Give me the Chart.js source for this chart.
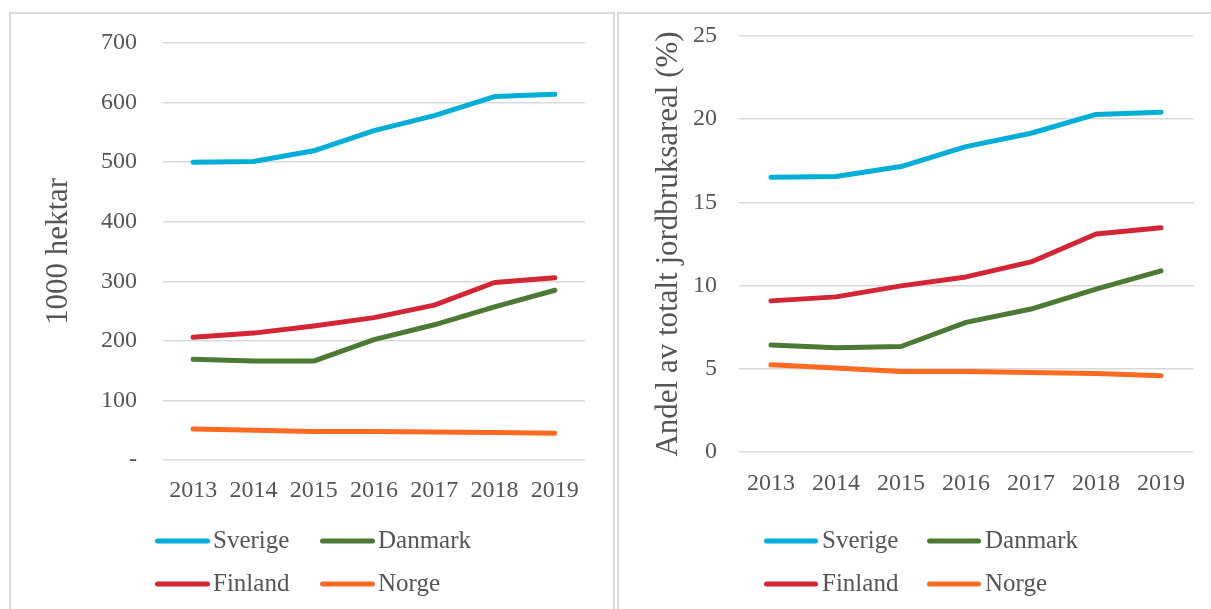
<!DOCTYPE html>
<html>
<head>
<meta charset="utf-8">
<script src="https://cdn.jsdelivr.net/npm/chart.js@4/dist/chart.umd.min.js"></script>
<style>
  html, body { margin: 0; padding: 0; background: #fff; overflow: hidden; }
  body { width: 1211px; height: 609px; position: relative; }
  .panel { position: absolute; top: 12px; height: 640px; border: 2px solid #d9d9d9; box-sizing: border-box; }
  #panelLeft { left: 9px; width: 606px; }
  #panelRight { left: 617px; width: 700px; }
  canvas { position: absolute; top: 0; }
  #chartLeft { left: 0; }
  #chartRight { left: 617px; }
</style>
</head>
<body>
<div class="panel" id="panelLeft"></div>
<div class="panel" id="panelRight"></div>
<canvas id="chartLeft" width="613" height="609"></canvas>
<canvas id="chartRight" width="594" height="609"></canvas>
<script>
// --- DATA ---
const years = ["2013", "2014", "2015", "2016", "2017", "2018", "2019"];
const countries = ["Sverige", "Danmark", "Finland", "Norge"];

// areal, 1000 hektar
const sverigeHa = [500, 501, 519, 553, 578, 610, 614];
const danmarkHa = [169, 166, 166, 202, 227, 257, 285];
const finlandHa = [206, 213, 225, 239, 260, 298, 306];
const norgeHa = [52, 50, 48, 48, 47, 46, 45];

// andel av totalt jordbruksareal, %
const sverigePct = [16.5, 16.55, 17.15, 18.35, 19.15, 20.28, 20.42];
const danmarkPct = [6.43, 6.26, 6.34, 7.79, 8.59, 9.78, 10.88];
const finlandPct = [9.08, 9.32, 9.98, 10.52, 11.42, 13.1, 13.47];
const norgePct = [5.24, 5.05, 4.84, 4.84, 4.78, 4.72, 4.58];

const leftTicks = { min: 0, max: 700, step: 100 };
const rightTicks = { min: 0, max: 25, step: 5 };

// --- STYLE ---
const colors = ["#00aed8", "#4a7a34", "#d42535", "#fe6a22"];
const textColor = "#555555";
const gridColor = "#d9d9d9";
const fontFamily = "'Liberation Serif', 'Times New Roman', serif";

// legend drawn as a 2x2 grid, like the spreadsheet original
const gridLegend = {
  id: "gridLegend",
  afterDraw(chart, args, opts) {
    const ctx = chart.ctx;
    ctx.save();
    ctx.font = `${opts.fontSize}px ${fontFamily}`;
    ctx.textBaseline = "middle";
    ctx.lineWidth = 5;
    ctx.lineCap = "round";
    chart.data.datasets.forEach((ds, i) => {
      const col = i % 2, row = Math.floor(i / 2);
      const x = opts.x + col * opts.colGap;
      const y = opts.rows[row];
      ctx.strokeStyle = ds.borderColor;
      ctx.beginPath();
      ctx.moveTo(x + 2.5, y);
      ctx.lineTo(x + opts.swatch - 2.5, y);
      ctx.stroke();
      ctx.fillStyle = textColor;
      ctx.fillText(ds.label, x + opts.swatch + opts.textGap, y);
    });
    ctx.restore();
  }
};

function makeDatasets(series) {
  return series.map((data, i) => ({
    label: countries[i],
    data,
    borderColor: colors[i],
    backgroundColor: colors[i],
    borderWidth: 5,
    borderCapStyle: "round",
    borderJoinStyle: "round",
    pointRadius: 0,
    tension: 0
  }));
}

function makeChart(el, series, ticks, cfg) {
  return new Chart(el, {
    type: "line",
    data: { labels: years, datasets: makeDatasets(series) },
    options: {
      responsive: false,
      animation: false,
      layout: { padding: { top: cfg.top, right: cfg.right, left: 0, bottom: 0 } },
      plugins: {
        legend: { display: false },
        tooltip: { enabled: false },
        gridLegend: cfg.legend
      },
      scales: {
        x: {
          offset: true,
          grid: { display: false, drawTicks: false },
          border: { display: false },
          ticks: { color: textColor, font: { family: fontFamily, size: 24, lineHeight: 1.2 }, padding: cfg.xPad, maxRotation: 0 },
          afterFit: s => { s.height = cfg.xHeight; }
        },
        y: {
          min: ticks.min,
          max: ticks.max,
          grid: { color: gridColor, lineWidth: 1.5, drawTicks: false },
          border: { display: false },
          ticks: {
            stepSize: ticks.step,
            color: textColor,
            padding: cfg.yPad,
            font: { family: fontFamily, size: 24, lineHeight: 1.2 },
            callback: cfg.tickFormat
          },
          title: {
            display: true,
            text: cfg.title,
            color: textColor,
            font: { family: fontFamily, size: 31, lineHeight: 1.2 },
            padding: { top: cfg.titlePad, bottom: 0 }
          },
          afterFit: s => { s.width = cfg.yWidth; }
        }
      }
    },
    plugins: [gridLegend]
  });
}

makeChart(document.getElementById("chartLeft"),
  [sverigeHa, danmarkHa, finlandHa, norgeHa], leftTicks, {
    top: 43, right: 28, xHeight: 149, xPad: 16, yWidth: 163, yPad: 26,
    title: "1000 hektar", titlePad: 40,
    tickFormat: v => (v === 0 ? "-" : v),
    legend: { x: 155, colGap: 165, rows: [541, 584], swatch: 55, textGap: 3, fontSize: 25 }
  });

makeChart(document.getElementById("chartRight"),
  [sverigePct, danmarkPct, finlandPct, norgePct], rightTicks, {
    top: 33.5, right: 17.5, xHeight: 157, xPad: 17, yWidth: 121.5, yPad: 21.5,
    title: "Andel av totalt jordbruksareal (%)", titlePad: 33,
    tickFormat: v => v,
    legend: { x: 147, colGap: 163, rows: [541, 584], swatch: 54, textGap: 4, fontSize: 25 }
  });
</script>
</body>
</html>
